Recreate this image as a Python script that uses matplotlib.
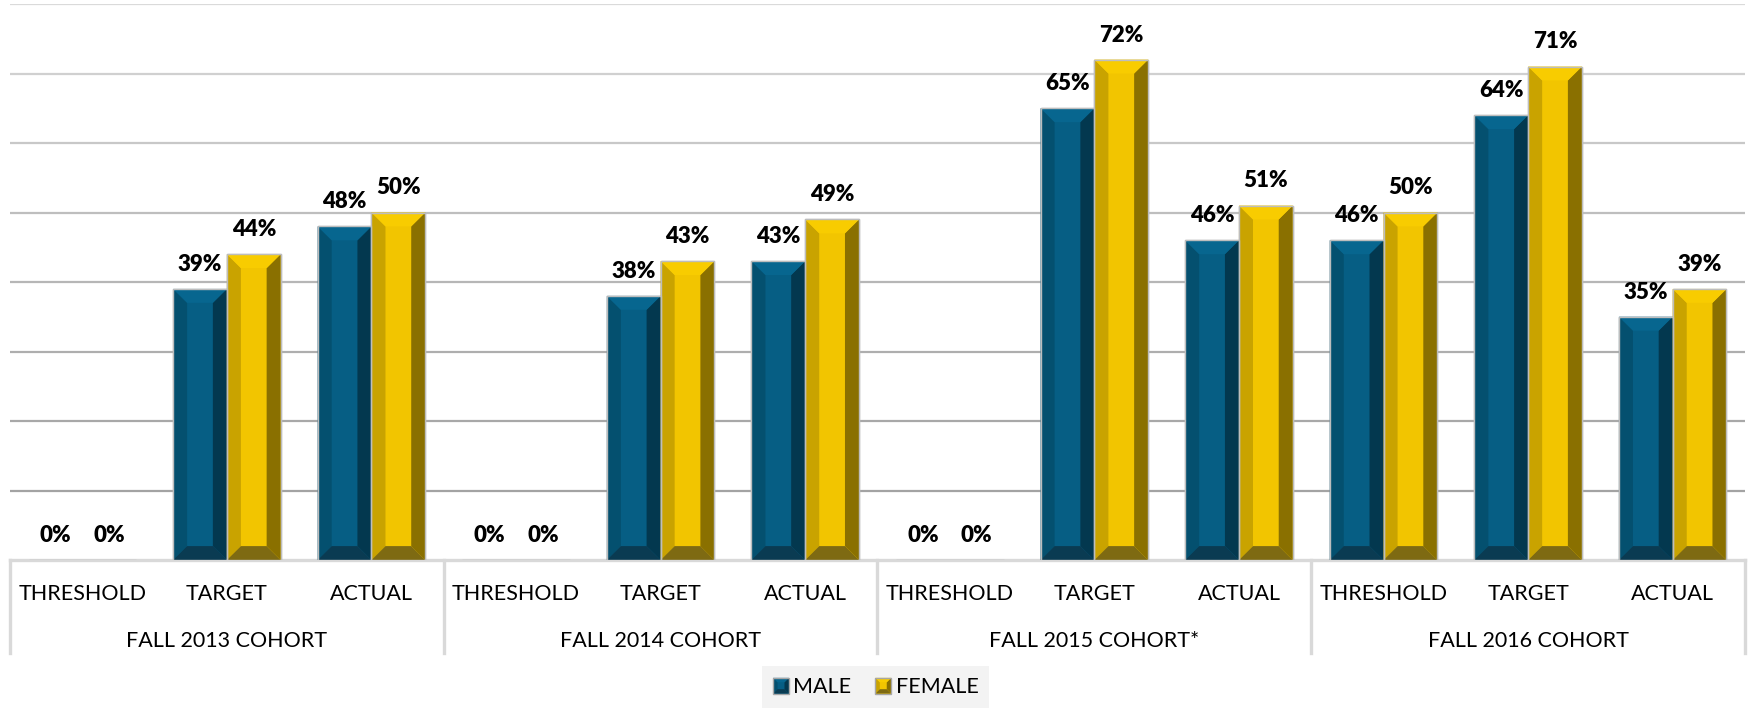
import numpy as np
import matplotlib
matplotlib.use("Agg")
import matplotlib.pyplot as plt
from matplotlib.patches import Polygon, Rectangle
from matplotlib.legend_handler import HandlerBase
from matplotlib.lines import Line2D

plt.rcParams['font.family'] = ['Lato', 'DejaVu Sans']

# data
categories = ['THRESHOLD', 'TARGET', 'ACTUAL'] * 4
groups = ['FALL 2013 COHORT', 'FALL 2014 COHORT', 'FALL 2015 COHORT*', 'FALL 2016 COHORT']
male = [0, 39, 48, 0, 38, 43, 0, 65, 46, 46, 64, 35]
female = [0, 44, 50, 0, 43, 49, 0, 72, 51, 50, 71, 39]
series_names = ['MALE', 'FEMALE']

# face colours: center, left, right, top, bottom
MALE_FACES = ['#065E84', '#04506F', '#03384F', '#07668F', '#0A3B52']
FEMALE_FACES = ['#F2C500', '#C9A300', '#8A7000', '#F8CC00', '#7E6A12']
EDGE = '#BDBDBD'

BAR_W = 0.372
DX = 0.097   # bevel in category units
DY = 2.0     # bevel in percent units


def bevel_polys(x0, x1, y0, y1, dx, dy):
    dy = min(dy, (y1 - y0) / 2.0)
    left = [(x0, y0), (x0 + dx, y0 + dy), (x0 + dx, y1 - dy), (x0, y1)]
    right = [(x1, y0), (x1 - dx, y0 + dy), (x1 - dx, y1 - dy), (x1, y1)]
    top = [(x0, y1), (x1, y1), (x1 - dx, y1 - dy), (x0 + dx, y1 - dy)]
    bottom = [(x0, y0), (x1, y0), (x1 - dx, y0 + dy), (x0 + dx, y0 + dy)]
    return left, right, top, bottom


def draw_bevel_bars(ax, xs, vals, faces):
    bars = ax.bar(xs, vals, width=BAR_W, color=faces[0], edgecolor=EDGE,
                  linewidth=1.0, zorder=3)
    for b in bars:
        h = b.get_height()
        if h <= 0:
            continue
        x0 = b.get_x()
        x1 = x0 + b.get_width()
        polys = bevel_polys(x0, x1, 0, h, DX, DY)
        for pts, c in zip(polys, [faces[1], faces[2], faces[3], faces[4]]):
            ax.add_patch(Polygon(pts, closed=True, facecolor=c, edgecolor='none', zorder=4))
        ax.add_patch(Rectangle((x0, 0), x1 - x0, h, fill=False, edgecolor=EDGE,
                               linewidth=1.0, zorder=5))
    return bars


class BevelHandler(HandlerBase):
    def __init__(self, faces):
        super().__init__()
        self.faces = faces

    def create_artists(self, legend, orig_handle, xdescent, ydescent, width, height,
                       fontsize, trans):
        s = height
        x0 = -xdescent + (width - s) / 2
        y0 = -ydescent
        x1, y1 = x0 + s, y0 + s
        d = s * 0.28
        arts = [Rectangle((x0, y0), s, s, facecolor=self.faces[0], edgecolor='none', transform=trans)]
        for pts, c in zip(bevel_polys(x0, x1, y0, y1, d, d), self.faces[1:]):
            arts.append(Polygon(pts, closed=True, facecolor=c, edgecolor='none', transform=trans))
        arts.append(Rectangle((x0, y0), s, s, fill=False, edgecolor='#A6A6A6', linewidth=1.0,
                              transform=trans))
        return arts


fig = plt.figure(figsize=(17.48, 7.08), dpi=100)
W, H = 1748, 708
ax_left, ax_right, ax_top, ax_bot = 10, 1745, 4, 560
ax = fig.add_axes([ax_left / W, 1 - ax_bot / H, (ax_right - ax_left) / W, (ax_bot - ax_top) / H])

x = np.arange(len(categories))
ax.set_xlim(-0.5, len(categories) - 0.5)
ax.set_ylim(0, 80)

# gridlines, darker towards the bottom
grid_vals = [10, 20, 30, 40, 50, 60, 70, 80]
grid_cols = ['#A3A3A3', '#A8A8A8', '#AEAEAE', '#B6B6B6', '#BEBEBE', '#C8C8C8', '#D0D0D0', '#DADADA']
for gv, gc in zip(grid_vals, grid_cols):
    ax.axhline(gv, color=gc, linewidth=1.6, zorder=1)

male_bars = draw_bevel_bars(ax, x - BAR_W / 2, male, MALE_FACES)
female_bars = draw_bevel_bars(ax, x + BAR_W / 2, female, FEMALE_FACES)

for bars, vals in [(male_bars, male), (female_bars, female)]:
    for b, v in zip(bars, vals):
        ax.annotate(f"{v}%", (b.get_x() + b.get_width() / 2, v), xytext=(0, 13),
                    textcoords='offset points', ha='center', va='baseline',
                    fontsize=16, fontweight='heavy', color='#000000', zorder=6)

for s in ax.spines.values():
    s.set_visible(False)
ax.set_xticks([])
ax.set_yticks([])

# category axis table
tr = ax.get_xaxis_transform()
axh = ax_bot - ax_top
cat_y = (ax_bot - 600) / axh
grp_y = (ax_bot - 647) / axh
low_y = (ax_bot - 653) / axh
for xi, c in zip(x, categories):
    ax.text(xi, cat_y, c, transform=tr, ha='center', va='baseline', fontsize=15.5, color='#000000')
for gi, g in enumerate(groups):
    ax.text(gi * 3 + 1, grp_y, g, transform=tr, ha='center', va='baseline', fontsize=15.5, color='#000000')

line_col = '#D9D9D9'
ax.add_line(Line2D([-0.5, len(categories) - 0.5], [0, 0], transform=tr, color=line_col,
                   linewidth=2.4, clip_on=False, zorder=2))
for bx in np.arange(-0.5, len(categories), 3):
    ax.add_line(Line2D([bx, bx], [0, low_y], transform=tr, color=line_col,
                       linewidth=2.4, clip_on=False, zorder=2))

handles = [Rectangle((0, 0), 1, 1), Rectangle((0, 1), 1, 1)]
leg = fig.legend(handles, series_names, loc='lower center', bbox_to_anchor=(0.501, 0.0),
                 ncol=2, frameon=True, fancybox=False, fontsize=15.5,
                 handlelength=0.75, handleheight=0.75, handletextpad=0.2,
                 columnspacing=1.1, borderpad=0.5, borderaxespad=0.0,
                 handler_map={handles[0]: BevelHandler(MALE_FACES),
                              handles[1]: BevelHandler(FEMALE_FACES)})
leg.get_frame().set_facecolor('#F0F0F0')
leg.get_frame().set_edgecolor('none')

fig.savefig('out.png', dpi=100)
